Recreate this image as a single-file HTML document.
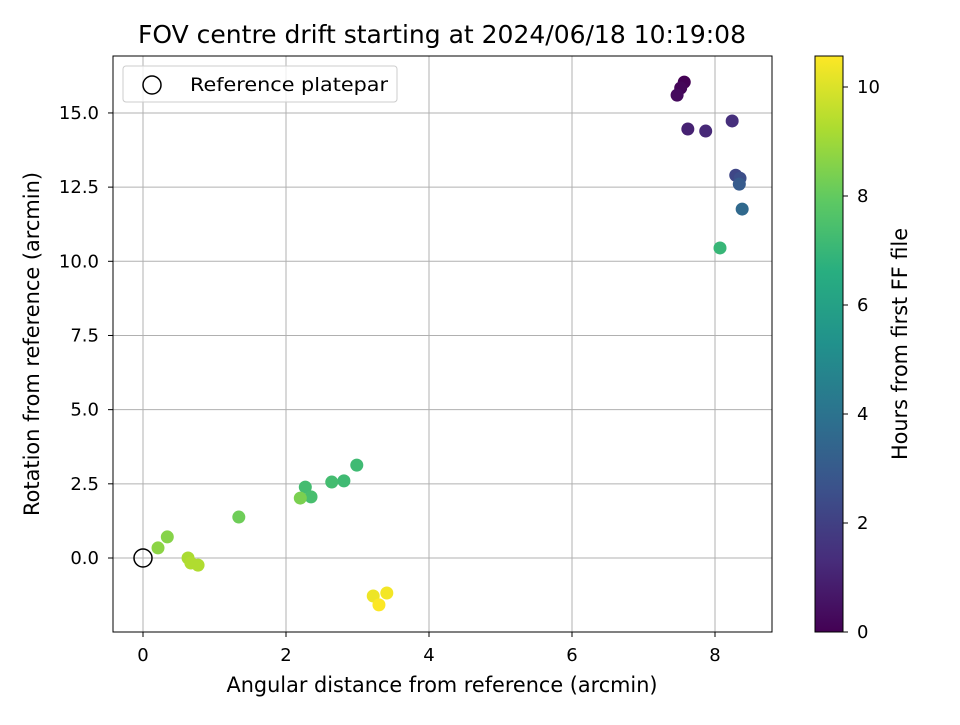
<!DOCTYPE html>
<html><head><meta charset="utf-8"><style>
body{margin:0;background:#fff}
svg text{font-family:"DejaVu Sans","Liberation Sans",sans-serif;fill:#000}
</style></head><body>
<svg id="chart" width="960" height="720" xmlns="http://www.w3.org/2000/svg">
<defs>
<linearGradient id="vir" x1="0" y1="1" x2="0" y2="0">
<stop offset="0" stop-color="#440154"/><stop offset="0.125" stop-color="#472d7b"/><stop offset="0.25" stop-color="#3b528b"/><stop offset="0.375" stop-color="#2c728e"/><stop offset="0.5" stop-color="#21918c"/><stop offset="0.625" stop-color="#28ae80"/><stop offset="0.75" stop-color="#5ec962"/><stop offset="0.875" stop-color="#addc30"/><stop offset="1" stop-color="#fde725"/>
</linearGradient>
</defs>
<text x="442" y="43" font-size="25" text-anchor="middle" textLength="608" lengthAdjust="spacingAndGlyphs">FOV centre drift starting at 2024/06/18 10:19:08</text>
<g id="grid"></g>
<g id="points"></g>
<rect x="113" y="56" width="659" height="576" fill="none" stroke="#000" stroke-width="1"/>
<g id="ticks"></g>
<text x="442" y="692" font-size="21" text-anchor="middle" textLength="431" lengthAdjust="spacingAndGlyphs">Angular distance from reference (arcmin)</text>
<text transform="translate(39,344) rotate(-90)" font-size="21" text-anchor="middle" textLength="344" lengthAdjust="spacingAndGlyphs">Rotation from reference (arcmin)</text>
<g>
<rect x="123" y="66" width="274" height="36" rx="3" fill="#fff" fill-opacity="0.8" stroke="#ccc"/>
<circle cx="152" cy="85" r="9" fill="none" stroke="#000" stroke-width="1.5"/>
<text x="190" y="91" font-size="19" textLength="198" lengthAdjust="spacingAndGlyphs">Reference platepar</text>
</g>
<rect x="815" y="56" width="28" height="576" fill="url(#vir)" stroke="#000" stroke-width="1"/>
<g id="cticks"></g>
<text transform="translate(907,344) rotate(-90)" font-size="21" text-anchor="middle" textLength="232" lengthAdjust="spacingAndGlyphs">Hours from first FF file</text>
</svg>
<script>
const xVals=[7.57,7.52,7.47,7.62,7.87,8.24,8.29,8.35,8.34,8.38,8.07,2.99,2.81,2.64,2.27,2.35,2.2,1.34,0.34,0.21,0.63,0.67,0.77,3.22,3.41,3.3];
const yVals=[16.04,15.84,15.6,14.46,14.39,14.73,12.9,12.8,12.6,11.76,10.45,3.13,2.6,2.56,2.39,2.06,2.02,1.38,0.71,0.34,0.0,-0.17,-0.24,-1.28,-1.18,-1.58];
const hours=[0.0,0.15,0.3,1.0,1.2,1.4,2.2,2.5,3.0,3.6,7.0,7.2,7.2,7.3,7.3,7.4,8.4,8.2,8.6,8.7,9.2,9.3,9.3,10.3,10.4,10.55];
const xTicks=[0,2,4,6,8];
const yTicks=[0,2.5,5,7.5,10,12.5,15];
const yTickLabels=["0.0","2.5","5.0","7.5","10.0","12.5","15.0"];
const cTicks=[0,2,4,6,8,10];
const X=v=>143+v*71.5, Y=v=>558-v*29.67, C=v=>632-v*54.5;
const stops=[[68,1,84],[71,45,123],[59,82,139],[44,114,142],[33,145,140],[40,174,128],[94,201,98],[173,220,48],[253,231,37]];
function vir(t){t=Math.max(0,Math.min(1,t))*8;const i=Math.min(7,Math.floor(t)),f=t-i,a=stops[i],b=stops[i+1];
return `rgb(${a.map((c,k)=>Math.round(c+(b[k]-c)*f)).join(',')})`;}
const NS="http://www.w3.org/2000/svg";
function mk(tag,attrs,parent){const e=document.createElementNS(NS,tag);for(const k in attrs)e.setAttribute(k,attrs[k]);document.getElementById(parent).appendChild(e);return e;}
xTicks.forEach(v=>{
 const g=mk('line',{x1:X(v),x2:X(v),y1:56,y2:632,stroke:'#b0b0b0','stroke-width':1},'grid');
 
 
 mk('line',{x1:X(v),x2:X(v),y1:632,y2:637,stroke:'#000'},'ticks');
 const t=mk('text',{x:X(v),y:661,'font-size':18,'text-anchor':'middle'},'ticks');t.textContent=v;
 
 
});
yTicks.forEach((v,i)=>{
 const g=mk('line',{x1:113,x2:772,y1:Y(v),y2:Y(v),stroke:'#b0b0b0','stroke-width':1},'grid');
 
 
 mk('line',{x1:108,x2:113,y1:Y(v),y2:Y(v),stroke:'#000'},'ticks');
 const t=mk('text',{x:99,y:Y(v)+6,'font-size':18,'text-anchor':'end'},'ticks');t.textContent=yTickLabels[i];
 
 
});
cTicks.forEach(v=>{
 mk('line',{x1:843,x2:848,y1:C(v),y2:C(v),stroke:'#000'},'cticks');
 const t=mk('text',{x:857,y:C(v)+6,'font-size':18},'cticks');t.textContent=v;
 
 
});
const ref=mk('circle',{cx:X(0),cy:Y(0),r:9,fill:'none',stroke:'#000','stroke-width':1.5},'points');


xVals.forEach((v,i)=>{
 const c=mk('circle',{cx:X(v),cy:Y(yVals[i]),r:6.5,fill:vir(hours[i]/10.57)},'points');
 
 
});
</script>
</body></html>
